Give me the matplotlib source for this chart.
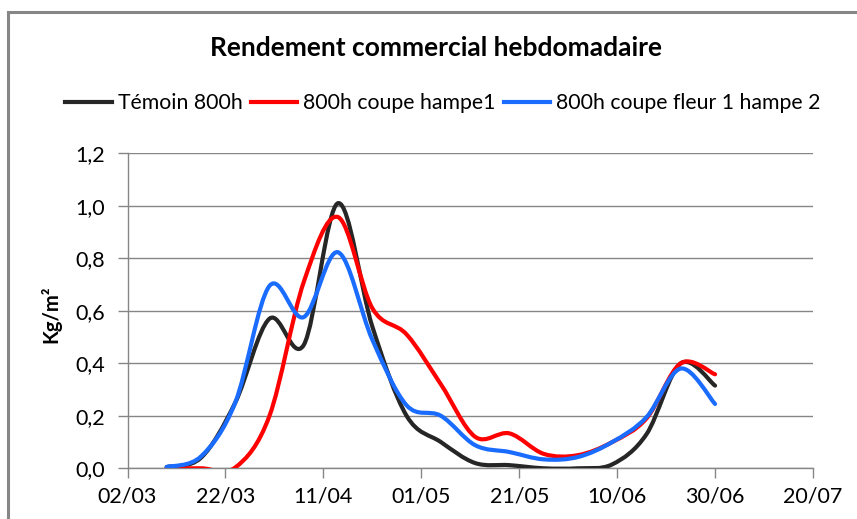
import datetime as dt
import numpy as np
import matplotlib
matplotlib.use("Agg")
import matplotlib.pyplot as plt
import matplotlib.dates as mdates
from matplotlib.path import Path
from matplotlib.patches import PathPatch, Rectangle
from matplotlib.lines import Line2D
from matplotlib.ticker import FuncFormatter

plt.rcParams['font.family'] = ['Lato', 'DejaVu Sans']

# ---- data ----
first_date = dt.date(2013, 3, 10)
n_weeks = 17
dates = [first_date + dt.timedelta(days=7 * k) for k in range(n_weeks)]

temoin = [0.005, 0.04, 0.25, 0.57, 0.47, 1.01, 0.54, 0.20, 0.10, 0.02, 0.012,
          0.0, 0.0, 0.015, 0.13, 0.40, 0.315]
hampe1 = [0.0, 0.0, 0.003, 0.20, 0.71, 0.957, 0.61, 0.51, 0.32, 0.12, 0.133,
          0.055, 0.05, 0.10, 0.19, 0.40, 0.358]
fleur_hampe2 = [0.005, 0.045, 0.25, 0.695, 0.576, 0.823, 0.49, 0.24, 0.20, 0.088,
                0.062, 0.034, 0.043, 0.10, 0.195, 0.38, 0.245]

series_names = ["Témoin 800h", "800h coupe hampe1", "800h coupe fleur 1 hampe 2"]
series_colors = ["#262626", "#ff0000", "#1a6cff"]

x_tick_start = dt.date(2013, 3, 2)
x_tick_step = 20
n_x_ticks = 8
y_ticks = [0.0, 0.2, 0.4, 0.6, 0.8, 1.0, 1.2]

# ---- figure ----
W, H = 857, 519
fig = plt.figure(figsize=(W / 100, H / 100), dpi=100)

# chart-area border (cropped at right / bottom)
fig.patches.append(Rectangle((8 / W, -0.1), 1.2, 1 - 12 / H + 0.1,
                             transform=fig.transFigure, fill=False,
                             edgecolor="#868686", linewidth=2.2, zorder=0))

ax = fig.add_axes([127.5 / W, 1 - 468.3 / H, (813 - 127.5) / W, (468.3 - 153.3) / H])

xnum = mdates.date2num(dates)


def smooth_path(xs, ys):
    pts = np.column_stack([xs, ys])
    verts = [pts[0]]
    codes = [Path.MOVETO]
    n = len(pts)
    for i in range(n - 1):
        p0 = pts[i - 1] if i > 0 else pts[i]
        p1 = pts[i]
        p2 = pts[i + 1]
        p3 = pts[i + 2] if i + 2 < n else pts[i + 1]
        c1 = p1 + (p2 - p0) / 6.0
        c2 = p2 - (p3 - p1) / 6.0
        verts += [c1, c2, p2]
        codes += [Path.CURVE4] * 3
    return Path(verts, codes)


for vals, col in zip([temoin, hampe1, fleur_hampe2], series_colors):
    patch = PathPatch(smooth_path(xnum, vals), facecolor="none", edgecolor=col,
                      linewidth=3.0, capstyle="round", joinstyle="round", zorder=3)
    ax.add_patch(patch)

xticks = [mdates.date2num(x_tick_start + dt.timedelta(days=x_tick_step * k)) for k in range(n_x_ticks)]
ax.set_xlim(xticks[0], xticks[-1])
ax.set_ylim(0, 1.2)
ax.set_xticks(xticks)
ax.xaxis.set_major_formatter(mdates.DateFormatter("%d/%m"))
ax.set_yticks(y_ticks)
ax.yaxis.set_major_formatter(FuncFormatter(lambda v, p: f"{v:.1f}".replace(".", ",")))

ax.grid(axis="y", color="#868686", linewidth=1.0)
ax.set_axisbelow(True)
for s in ["top", "right"]:
    ax.spines[s].set_visible(False)
for s in ["left", "bottom"]:
    ax.spines[s].set_color("#868686")
    ax.spines[s].set_linewidth(1.0)
ax.tick_params(axis="both", direction="out", length=7, width=1.0, color="#868686",
               labelsize=15.5, labelcolor="#000000")
ax.tick_params(axis="y", pad=9)
ax.tick_params(axis="x", pad=6)

ax.set_ylabel("Kg/m²", fontsize=14.5, fontweight="bold")
ax.yaxis.set_label_coords(-0.096, 0.49)

fig.text(436 / W, 1 - 48 / H, "Rendement commercial hebdomadaire", ha="center", va="center",
         fontsize=19, fontweight="bold")

handles = [Line2D([], [], color=c, linewidth=3.0) for c in series_colors]
fig.legend(handles, series_names, loc="center", bbox_to_anchor=(443 / W, 1 - 103 / H),
           ncol=3, frameon=False, fontsize=15.3, handlelength=2.2, handletextpad=0.28,
           columnspacing=0.37, borderpad=0, borderaxespad=0)

fig.savefig("out.png", dpi=100)
